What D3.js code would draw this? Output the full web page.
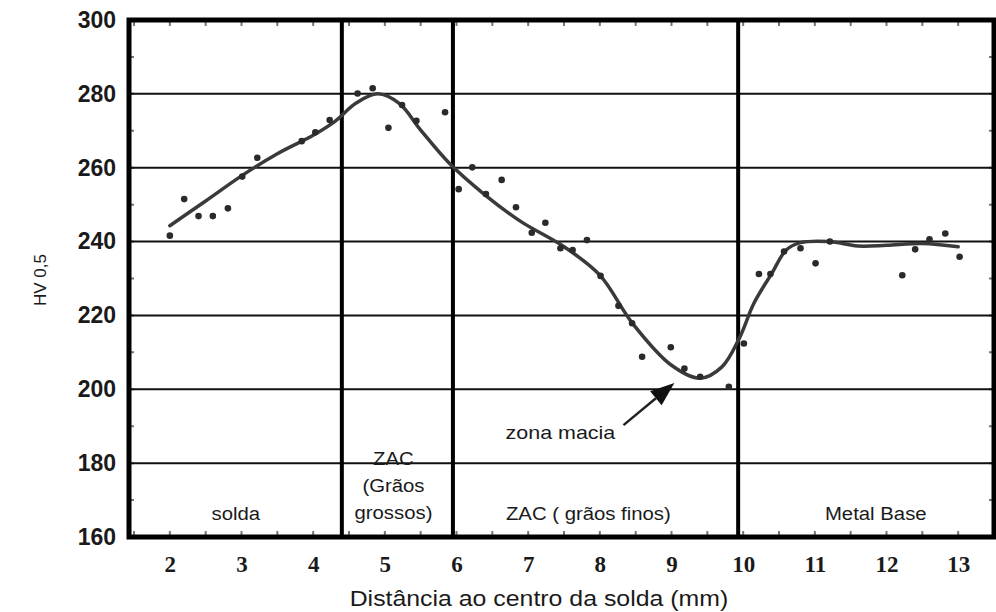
<!DOCTYPE html>
<html>
<head>
<meta charset="utf-8">
<script src="https://cdn.jsdelivr.net/npm/d3@7"></script>
<style>
    body { margin: 0; background: #fff; }
    .chart text { fill: #1a1a1a; }
</style>
</head>
<body>
<svg class="chart"></svg>
<script>
// measured hardness points (mm from weld centre, HV 0,5)
var distPoints = [2.0, 2.2, 2.4, 2.6, 2.81, 3.01, 3.22, 3.84, 4.03, 4.23, 4.62, 4.83, 5.05, 5.24, 5.44, 5.84,
    6.03, 6.22, 6.41, 6.63, 6.83, 7.05, 7.24, 7.45, 7.62, 7.82, 8.01, 8.26, 8.45, 8.59, 8.99, 9.18, 9.40,
    9.80, 10.01, 10.22, 10.38, 10.57, 10.80, 11.01, 11.21, 12.22, 12.40, 12.60, 12.82, 13.02];
var hvPoints = [241.6, 251.5, 246.9, 246.9, 249.0, 257.6, 262.7, 267.2, 269.6, 272.9, 280.1, 281.5, 270.8, 277.0, 272.7, 275.0,
    254.2, 260.1, 252.9, 256.7, 249.3, 242.4, 245.1, 238.2, 237.7, 240.4, 230.7, 222.6, 217.9, 208.8, 211.4, 205.6, 203.4,
    200.7, 212.4, 231.2, 231.2, 237.3, 238.2, 234.1, 240.0, 230.9, 237.9, 240.6, 242.2, 235.9];

// fitted trend line
var curveDist = [2.0, 2.5, 3.0, 3.5, 4.0, 4.3, 4.6, 4.9, 5.2, 5.5, 5.9, 6.4, 6.9, 7.5, 8.0, 8.45, 9.0, 9.4, 9.7,
    9.95, 10.15, 10.4, 10.6, 10.8, 11.2, 11.6, 12.0, 12.5, 13.0];
var curveHv = [244.3, 251.0, 257.8, 263.8, 268.8, 272.5, 277.5, 280.0, 277.4, 270.2, 261.2, 252.6, 245.4, 238.6, 230.9,
    218.0, 206.5, 203.0, 206.0, 214.0, 223.3, 231.4, 237.7, 239.7, 240.0, 238.8, 239.0, 239.5, 238.6];

var xTicks = [2, 3, 4, 5, 6, 7, 8, 9, 10, 11, 12, 13];
var yTicks = [160, 180, 200, 220, 240, 260, 280, 300];
var gridHv = [180, 200, 220, 240, 260, 280];
var zoneBounds = [4.4, 5.95, 9.93];

var zoneLabels = ['solda', 'ZAC ( grãos finos)', 'Metal Base'];
var zoneLabelDist = [2.92, 7.84, 11.85];
var coarseLines = ['ZAC', '(Grãos', 'grossos)'];
var coarseDist = 5.12;

var arrowFrom = [8.33, 190.3];
var arrowTo = [9.04, 201.7];
var softLabel = 'zona macia';
var softLabelDist = 7.45;

function show() {
    'use strict';

    var margin = { top: 20, bottom: 75, right: 2, left: 129 },
        width = 996 - margin.left - margin.right,
        height = 612 - margin.top - margin.bottom;

    var svg = d3.select('.chart')
        .attr('width', width + margin.left + margin.right)
        .attr('height', height + margin.top + margin.bottom);

    var chart = svg.append('g')
        .attr('transform', 'translate(' + margin.left + ',' + margin.top + ')');

    var x = d3.scaleLinear().domain([1.43, 13.5]).range([0, width]);
    var y = d3.scaleLinear().domain([160, 300]).range([height, 0]);

    var stretch = 1.13;
    function textAt(g, px, py, str, size) {
        return g.append('text')
            .attr('transform', 'translate(' + px + ',' + py + ') scale(' + stretch + ',1)')
            .attr('text-anchor', 'middle')
            .style('font-family', '"Liberation Sans", Arial, sans-serif')
            .style('font-size', size + 'px')
            .text(str);
    }

    // minor ticks inside the frame
    var minorX = d3.range(1.5, 13.51, 0.5);
    var minorY = d3.range(170, 300, 10);
    chart.selectAll('.mtx').data(minorX).enter().append('path')
        .attr('d', function (d) { return 'M' + x(d) + ',0v6M' + x(d) + ',' + height + 'v-6'; })
        .attr('stroke', '#777').attr('stroke-width', 2);
    chart.selectAll('.mty').data(minorY).enter().append('path')
        .attr('d', function (d) { return 'M0,' + y(d) + 'h5M' + width + ',' + y(d) + 'h-5'; })
        .attr('stroke', '#777').attr('stroke-width', 2);

    // horizontal grid
    chart.selectAll('.grid').data(gridHv).enter().append('line')
        .attr('x1', 0).attr('x2', width)
        .attr('y1', function (d) { return y(d); })
        .attr('y2', function (d) { return y(d); })
        .attr('stroke', '#111').attr('stroke-width', 2);

    // zone separators
    chart.selectAll('.zone').data(zoneBounds).enter().append('line')
        .attr('x1', function (d) { return x(d); })
        .attr('x2', function (d) { return x(d); })
        .attr('y1', 0).attr('y2', height)
        .attr('stroke', '#000').attr('stroke-width', 4);

    // frame
    chart.append('rect')
        .attr('width', width).attr('height', height)
        .attr('fill', 'none').attr('stroke', '#000').attr('stroke-width', 5);

    // axes
    var bottomAxis = d3.axisBottom(x).tickValues(xTicks).tickSize(0).tickPadding(0).tickFormat(d3.format('d'));
    var leftAxis = d3.axisLeft(y).tickValues(yTicks).tickSize(0).tickPadding(13);

    var xa = chart.append('g')
        .attr('transform', 'translate(0,' + height + ')')
        .call(bottomAxis);
    xa.select('.domain').remove();
    xa.selectAll('text')
        .attr('y', 35).attr('dy', 0)
        .style('font-family', '"Liberation Serif", "Times New Roman", serif')
        .style('font-weight', 'bold')
        .style('font-size', '23px')
        .style('fill', '#1a1a1a');

    var ya = chart.append('g').call(leftAxis);
    ya.select('.domain').remove();
    ya.selectAll('text')
        .style('font-family', '"Liberation Sans", Arial, sans-serif')
        .style('font-weight', 'bold')
        .style('font-size', '23px')
        .style('fill', '#1a1a1a');

    // axis titles
    textAt(svg, margin.left + x(7.15), 606, 'Distância ao centro da solda (mm)', 22);
    svg.append('text')
        .attr('transform', 'translate(46,280) rotate(-90)')
        .attr('text-anchor', 'middle')
        .style('font-family', '"Liberation Sans", Arial, sans-serif')
        .style('font-size', '17px')
        .text('HV 0,5');

    // zone labels
    zoneLabels.forEach(function (d, i) {
        textAt(chart, x(zoneLabelDist[i]), height - 17, d, 18);
    });
    coarseLines.forEach(function (d, i) {
        textAt(chart, x(coarseDist), height - 72 + i * 27, d, 18);
    });

    // trend line
    var line = d3.line()
        .x(function (d) { return x(d[0]); })
        .y(function (d) { return y(d[1]); })
        .curve(d3.curveCatmullRom.alpha(0.5));

    chart.append('path')
        .datum(d3.zip(curveDist, curveHv))
        .attr('d', line)
        .attr('fill', 'none')
        .attr('stroke', '#3a3a3a')
        .attr('stroke-width', 3.5)
        .attr('stroke-linecap', 'round');

    // measured points
    chart.selectAll('.pt').data(d3.zip(distPoints, hvPoints)).enter().append('circle')
        .attr('cx', function (d) { return x(d[0]); })
        .attr('cy', function (d) { return y(d[1]); })
        .attr('r', 3.3)
        .attr('fill', '#2a2a2a');

    // soft zone arrow
    var ax0 = x(arrowFrom[0]), ay0 = y(arrowFrom[1]),
        ax1 = x(arrowTo[0]), ay1 = y(arrowTo[1]);
    var ang = Math.atan2(ay1 - ay0, ax1 - ax0);
    var headLen = 24, headW = 9;
    var bx = ax1 - headLen * Math.cos(ang), by = ay1 - headLen * Math.sin(ang);
    chart.append('line')
        .attr('x1', ax0).attr('y1', ay0).attr('x2', bx).attr('y2', by)
        .attr('stroke', '#222').attr('stroke-width', 2.5);
    chart.append('path')
        .attr('d', 'M' + ax1 + ',' + ay1 +
            'L' + (bx + headW * Math.sin(ang)) + ',' + (by - headW * Math.cos(ang)) +
            'L' + (bx - headW * Math.sin(ang)) + ',' + (by + headW * Math.cos(ang)) + 'Z')
        .attr('fill', '#111');
    textAt(chart, x(softLabelDist), y(186.5), softLabel, 19);
}

show();
</script>
</body>
</html>
